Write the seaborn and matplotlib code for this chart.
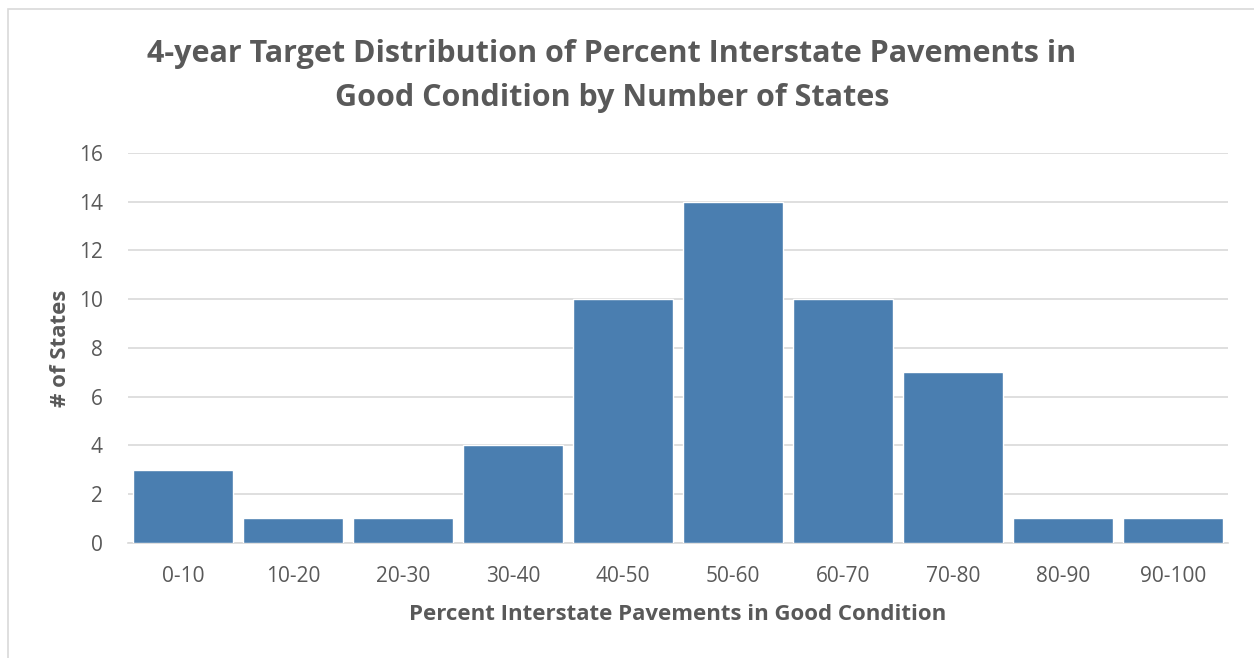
import matplotlib
matplotlib.use("Agg")
import matplotlib.pyplot as plt
import seaborn as sns
import pandas as pd
from matplotlib.patches import Rectangle

# Distribution of 4-year targets by percent-good bin
bins = ["0-10", "10-20", "20-30", "30-40", "40-50",
        "50-60", "60-70", "70-80", "80-90", "90-100"]
states = [3, 1, 1, 4, 10, 14, 10, 7, 1, 1]
y_ticks = [0, 2, 4, 6, 8, 10, 12, 14, 16]

df = pd.DataFrame({"bin": bins, "states": states})

sns.set_theme(style="white")
plt.rcParams["font.family"] = ["Open Sans", "DejaVu Sans"]

text_gray = "#595959"
bar_color = "#4A7EB0"
grid_gray = "#D9D9D9"

fig = plt.figure(figsize=(12.54, 6.58), dpi=100)
ax = fig.add_axes([0.102, 0.175, 0.877, 0.5925])

sns.barplot(data=df, x="bin", y="states", color=bar_color, width=0.91,
            saturation=1, ax=ax, zorder=3)

ax.set_ylim(0, 16)
ax.set_yticks(y_ticks)
ax.set_xlim(-0.5, len(bins) - 0.5)
ax.yaxis.grid(True, color=grid_gray, linewidth=1.2, zorder=0)
ax.xaxis.grid(False)
for side in ["top", "right", "left"]:
    ax.spines[side].set_visible(False)
ax.spines["bottom"].set_color(grid_gray)
ax.spines["bottom"].set_linewidth(1.2)
ax.tick_params(axis="both", length=0, labelsize=15, colors=text_gray)
ax.tick_params(axis="x", pad=17)
ax.tick_params(axis="y", pad=18)

ax.set_xlabel("Percent Interstate Pavements in Good Condition",
              fontsize=16, fontweight="bold", color=text_gray, labelpad=12)
ax.set_ylabel("# of States", fontsize=16, fontweight="bold",
              color=text_gray, labelpad=6)

fig.text(0.488, 0.884,
         "4-year Target Distribution of Percent Interstate Pavements in\nGood Condition by Number of States",
         ha="center", va="center", fontsize=22, fontweight="bold",
         color=text_gray, linespacing=1.6)

# Outer chart frame
fig.patches.append(Rectangle((8 / 1254, -0.1), 1.2, 1 - 9 / 658 + 0.1,
                             transform=fig.transFigure, fill=False,
                             edgecolor="#D9D9D9", linewidth=1.2))

fig.savefig("out.png", dpi=100, facecolor="white")
